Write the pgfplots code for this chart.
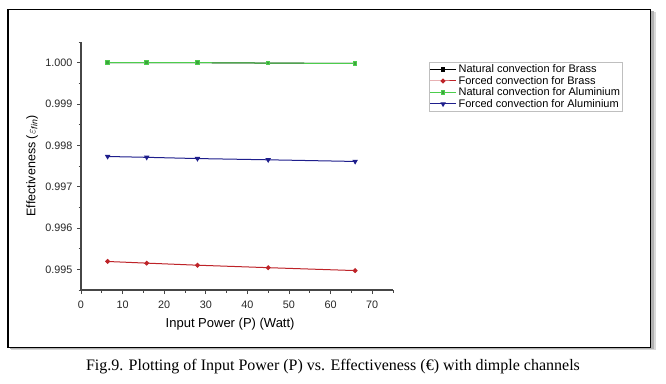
\documentclass[border=0pt]{standalone}
\usepackage{pgfplots}
\pgfplotsset{compat=1.18}
\usepackage{fontspec}
\setmainfont{Liberation Sans}
\newfontfamily\capfont{Liberation Serif}
\definecolor{cgreen}{RGB}{76,205,76}
\definecolor{cred}{RGB}{190,35,40}
\definecolor{cblue}{RGB}{30,30,140}
\definecolor{caxis}{RGB}{70,70,70}
\begin{document}
\begin{tikzpicture}
\useasboundingbox (0pt,0pt) rectangle (666pt,383pt);
% shadow and frame
\fill[black!15] (11pt,33pt) rectangle (655.5pt,370.5pt);
\fill[black!30] (10pt,34pt) rectangle (653.5pt,371.5pt);
\filldraw[fill=white,draw=black,line width=1.2pt] (8pt,35.5pt) rectangle (650.5pt,373.5pt);
\node[font=\capfont\fontsize{16}{18}\selectfont,anchor=center] at (333pt,16pt) {Fig.9. Plotting of Input Power (P) vs. Effectiveness (€) with dimple channels};
\begin{axis}[
  at={(81pt,93pt)}, anchor=south west,
  scale only axis, width=312pt, height=248pt,
  xmin=0, xmax=75, ymin=0.9945, ymax=1.0005,
  axis lines=left,
  axis line style={-, caxis, line width=1.1pt},
  tick align=outside,
  tick style={caxis, line width=0.8pt},
  major tick length=4pt, minor tick length=2.5pt,
  xtick={0,10,...,70}, minor xtick={5,15,...,75},
  ytick={0.995,0.996,0.997,0.998,0.999,1.000},
  minor ytick={0.9945,0.9955,0.9965,0.9975,0.9985,0.9995,1.0005},
  scaled y ticks=false,
  yticklabel style={/pgf/number format/.cd, fixed, fixed zerofill, precision=3, /tikz/.cd},
  /pgf/number format/assume math mode=true,
  ticklabel style={font=\fontsize{10.8}{12}\selectfont, text=black!85},
  xticklabel style={yshift=-3pt},
  yticklabel style={xshift=-1pt},
  xlabel={Input Power (P) (Watt)},
  ylabel={Effectiveness ($\varepsilon_{\mathit{fin}}$)},
  every axis x label/.style={at={(axis description cs:0.478,-0.137)}, anchor=center, font=\fontsize{13}{15}\selectfont},
  every axis y label/.style={at={(axis description cs:-0.157,0.5)}, anchor=center, rotate=90, font=\fontsize{12.5}{15}\selectfont},
  legend style={at={(rel axis cs:1.115,0.919)}, anchor=north west,
    draw=black!25, font=\fontsize{11}{12}\selectfont, inner sep=0.5pt,
    row sep=-2pt, legend cell align=left},
  legend image code/.code={\draw[mark repeat=2,mark phase=2] plot coordinates {(0pt,0pt) (13pt,0pt) (26pt,0pt)};},
  every axis plot/.append style={line width=1pt},
  clip=false,
]
\addplot[black, mark=square*, mark size=1.8pt] coordinates {
(6.4,1.00000) (15.8,1.00000) (28.0,1.00000) (45.0,0.99999) (65.9,0.99998)};
\addlegendentry{Natural convection for Brass}
\addplot[cred, mark=*, mark size=1.9pt] coordinates {
(6.4,0.99519) (15.8,0.99515) (28.0,0.99510) (45.0,0.99504) (65.9,0.99497)};
\addlegendentry{Forced convection for Brass}
\addplot[cgreen, mark=square*, mark size=1.8pt, mark options={fill=cgreen!80!black}] coordinates {
(6.4,1.00000) (15.8,1.00000) (28.0,1.00000) (45.0,0.99999) (65.9,0.99998)};
\addlegendentry{Natural convection for Aluminium}
\addplot[cblue, mark=triangle*, mark size=2.2pt, mark options={rotate=180}] coordinates {
(6.4,0.99773) (15.8,0.99771) (28.0,0.99768) (45.0,0.99765) (65.9,0.99761)};
\addlegendentry{Forced convection for Aluminium}
\end{axis}
\end{tikzpicture}
\end{document}
